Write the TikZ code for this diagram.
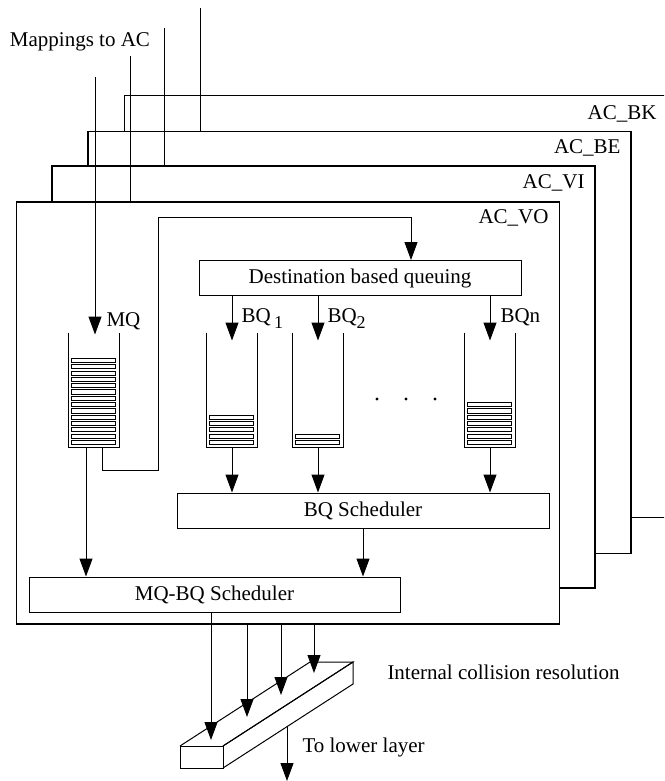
\documentclass[tikz,border=0pt]{standalone}
\usepackage{fontspec}
\setmainfont{Liberation Serif}
\usetikzlibrary{arrows.meta}

\begin{document}
\begin{tikzpicture}[x=0.5pt,y=-0.5pt,
  font=\fontsize{10.5}{12.6}\selectfont,
  line width=0.5pt,
  arr/.style={-{Triangle[length=9pt,width=6.5pt]}},
  frame/.style={draw, fill=white, line width=0.65pt, minimum width=271.5pt, minimum height=211pt, inner sep=0pt},
  block/.style={draw, minimum height=17.5pt, inner sep=0pt},
  queue/.style={minimum width=25pt, minimum height=57pt, inner sep=0pt},
  slot/.style={draw, fill=white, line width=0.5pt},
  txt/.style={inner sep=0pt}]
\clip (0,0) rectangle (664,781);

% access category frames, back to front
\node[frame] (bk) at (396,306.5) {};
\node[txt, anchor=east] (lbk) at (657,114) {AC\_BK};
\coordinate (inbk) at (200,8);
\draw (inbk) -- (inbk |- bk.center);

\node[frame] (be) at (359.5,342.5) {};
\node[txt, anchor=east] (lbe) at (621,148) {AC\_BE};
\coordinate (inbe) at (164,28);
\draw (inbe) -- (inbe |- be.center);

\node[frame] (vi) at (323.5,377) {};
\node[txt, anchor=east] (lvi) at (585,183) {AC\_VI};
\coordinate (invi) at (130,56);
\draw (invi) -- (invi |- vi.center);

\node[frame] (vo) at (288,413) {};
\node[txt, anchor=east] (lvo) at (549,218) {AC\_VO};
\coordinate (inmq) at (95,77);
\node[txt] (map) at (80,42) {Mappings to AC};

% queues
\node[queue] (mq) at (94,390) {};
\node[queue] (bq1) at (232,390) {};
\node[queue] (bq2) at (318,390) {};
\node[queue] (bqn) at (490,390) {};
\foreach \q/\n in {mq/13, bq1/4, bq2/1, bqn/6} {
  \draw (\q.north west) -- (\q.south west) -- (\q.south east) -- (\q.north east);
  \foreach \i in {0,...,\n}
    \draw[slot] ([xshift=1.6pt,yshift=1.5pt+\i*3.15pt]\q.south west) rectangle ++(21.8pt,2.1pt);
}
\foreach \x in {377,406,435}
  \fill (\x,399) circle (1.6);

% blocks
\node[block, minimum width=161pt] (dbq) at (360,278) {Destination based queuing};
\node[block, minimum width=186pt] (bqs) at (363,510.5) {BQ Scheduler};
\node[block, minimum width=185.5pt] (mqbq) at (214.5,594.5) {MQ-BQ Scheduler};

% flows
\draw[arr] (inmq) -- ([yshift=-1pt]inmq |- mq.north);
\node[txt, anchor=base west] (lmq) at (106,326) {MQ};
\draw[arr] ([xshift=4pt]mq.south) -- ++(0,23) -- ++(56,0) -- (158,217) -| ([xshift=25.5pt]dbq.north);
\draw[arr] ([xshift=-4pt]mq.south) -- ([xshift=-4pt]mq.south |- mqbq.north);
\foreach \q in {bq1,bq2,bqn} {
  \draw[arr] (dbq.south -| \q) -- ([yshift=-4pt]\q.north);
  \draw[arr] (\q.south) -- (\q.south |- bqs.north);
}
\node[txt, anchor=base west] (lbq1) at (241,322) {BQ\,\raisebox{-3pt}{\fontsize{9}{10}\selectfont 1}};
\node[txt, anchor=base west] (lbq2) at (327,322) {BQ\raisebox{-3pt}{\fontsize{9}{10}\selectfont 2}};
\node[txt, anchor=base west] (lbqn) at (500,322) {BQn};
\draw[arr] (bqs.south) -- (bqs.south |- mqbq.north);

% collision resolution bar
\draw (180,746) rectangle (223,768);
\draw (180,746) -- (310,662) -- (353,662) -- (223,746);
\draw (223,746) -- (353,662) -- (353,684) -- (223,768);
\coordinate (t1) at (211,740);
\coordinate (t2) at (247,717);
\coordinate (t3) at (281,695);
\coordinate (t4) at (314,673);
\draw[arr] ([xshift=-1.75pt]mqbq.south) -- (t1);
\foreach \t in {t2,t3,t4}
  \draw[arr] (\t |- vo.south) -- (\t);
\coordinate (lowout) at (287,726);
\coordinate (lowend) at (287,781);
\draw[arr] (lowout) -- (lowend);
\node[txt, anchor=west] (llow) at (302,747) {To lower layer};
\node[txt, anchor=west] (lres) at (387,672) {Internal collision resolution};
\end{tikzpicture}
\end{document}
